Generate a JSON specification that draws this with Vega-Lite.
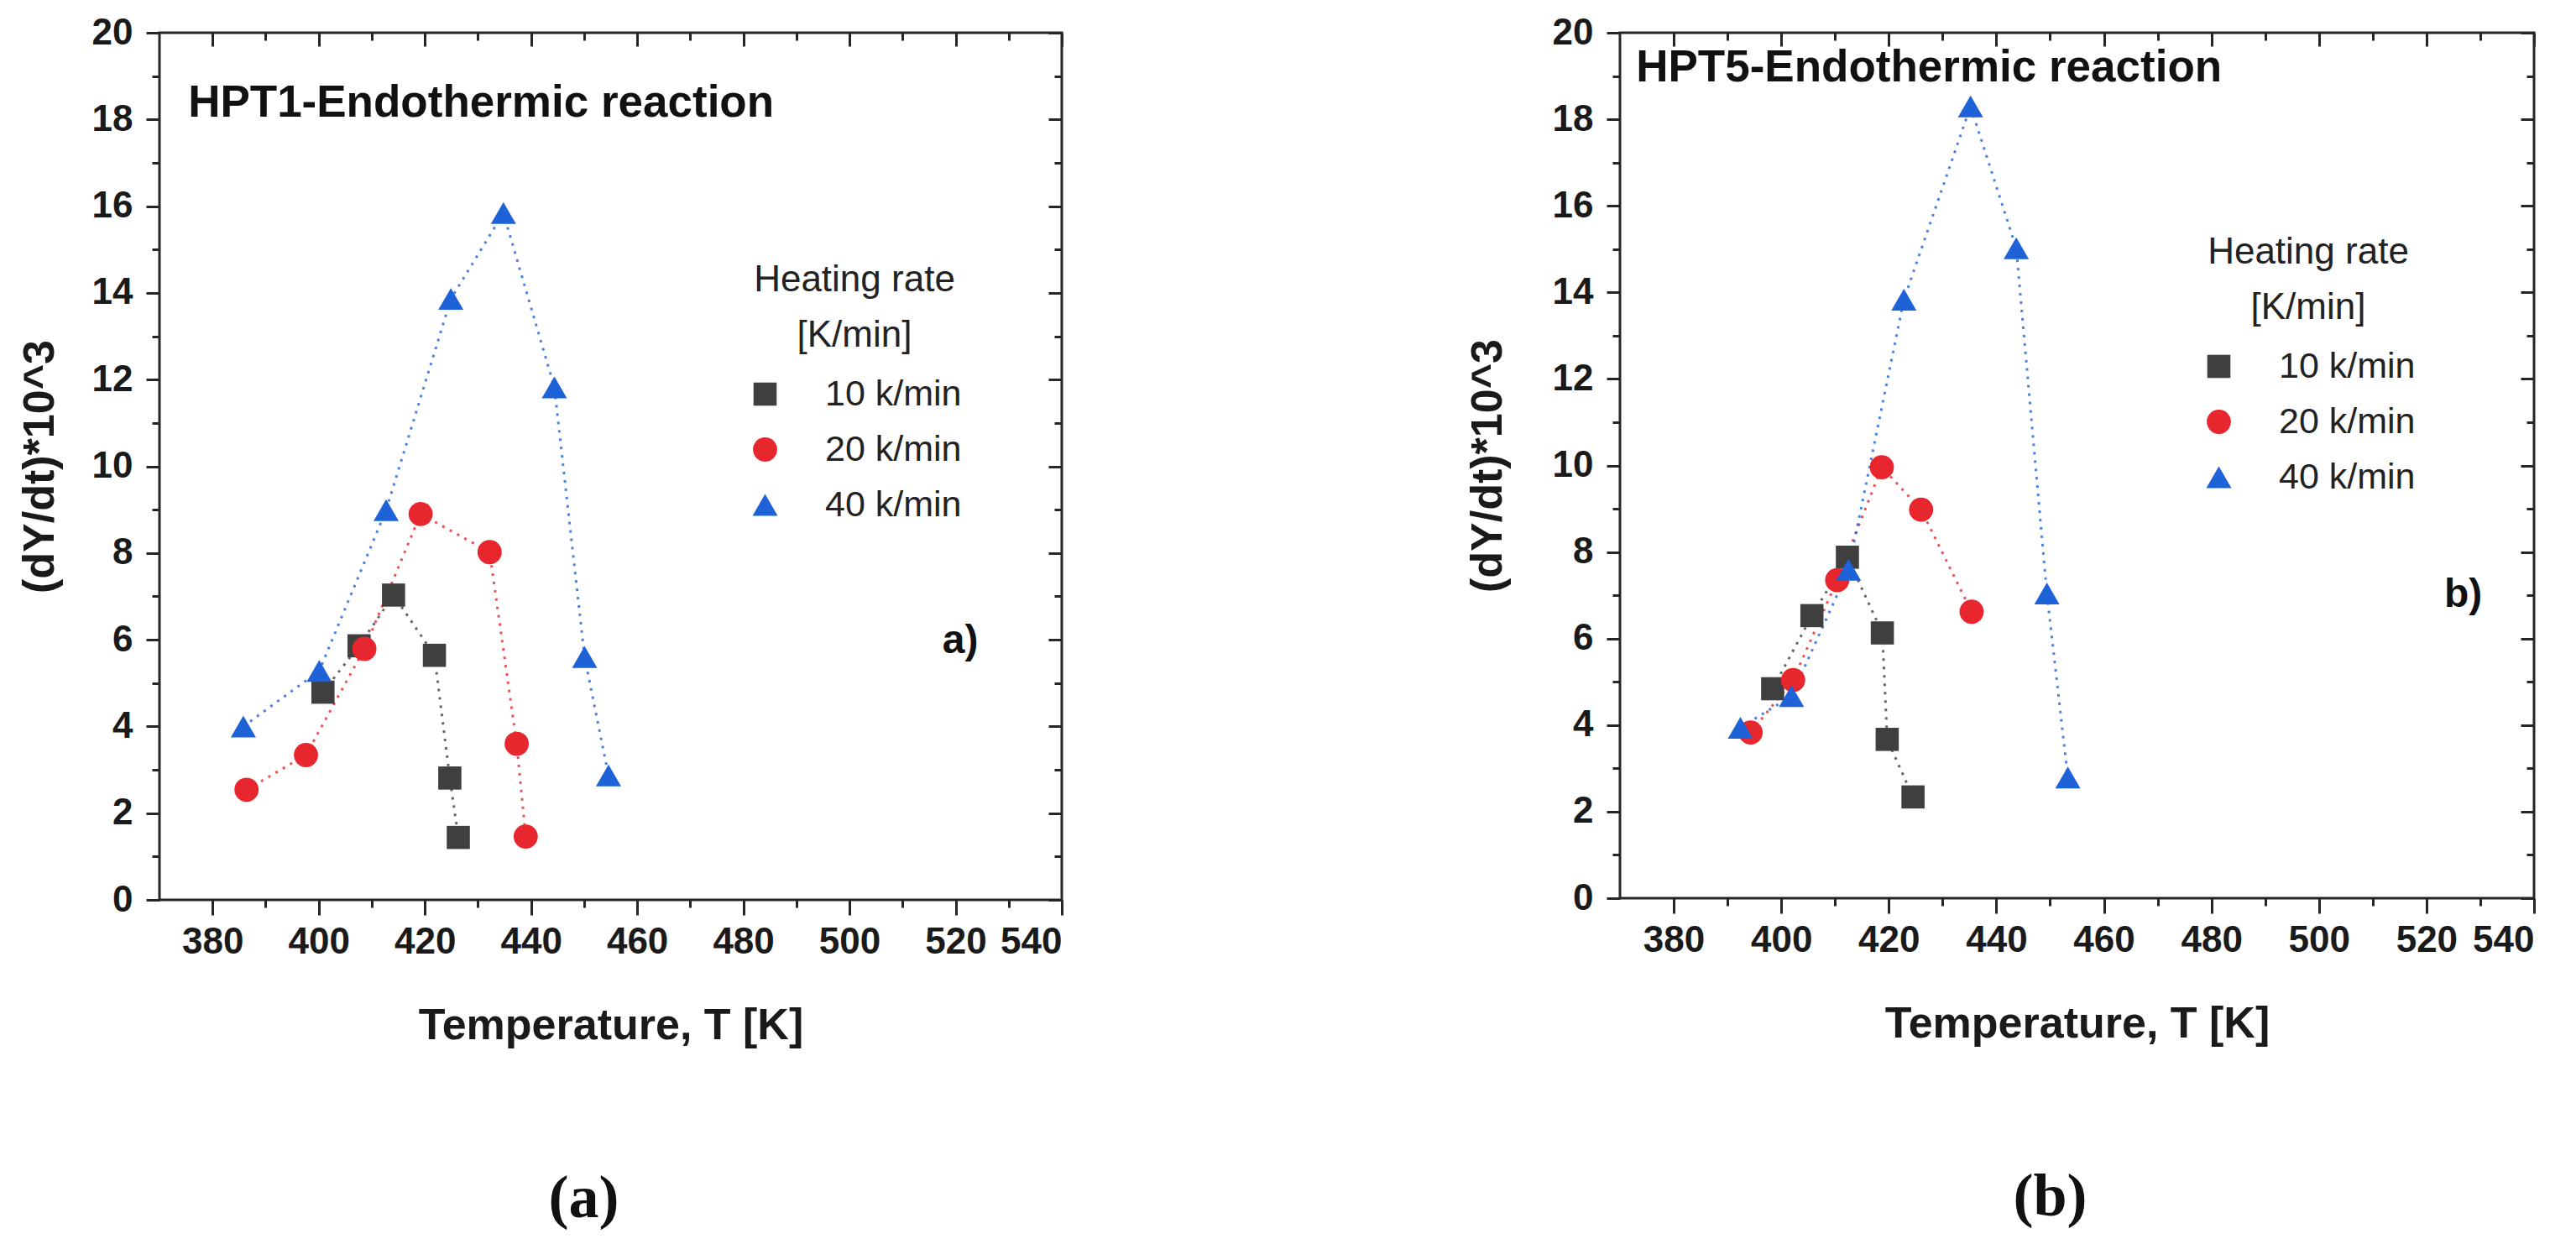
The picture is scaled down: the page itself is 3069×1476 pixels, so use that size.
{
  "$schema": "https://vega.github.io/schema/vega-lite/v6.json",
  "background": "white",
  "padding": {"left": 19, "top": 15, "right": 0, "bottom": 0},
  "datasets": {
    "a": [
      {"T": 400.8, "r": 4.79, "s": "10 k/min"},
      {"T": 407.6, "r": 5.86, "s": "10 k/min"},
      {"T": 414.1, "r": 7.03, "s": "10 k/min"},
      {"T": 421.8, "r": 5.64, "s": "10 k/min"},
      {"T": 424.7, "r": 2.81, "s": "10 k/min"},
      {"T": 426.3, "r": 1.44, "s": "10 k/min"},
      {"T": 386.4, "r": 2.54, "s": "20 k/min"},
      {"T": 397.6, "r": 3.34, "s": "20 k/min"},
      {"T": 408.6, "r": 5.79, "s": "20 k/min"},
      {"T": 419.2, "r": 8.9, "s": "20 k/min"},
      {"T": 432.2, "r": 8.02, "s": "20 k/min"},
      {"T": 437.3, "r": 3.6, "s": "20 k/min"},
      {"T": 439.0, "r": 1.46, "s": "20 k/min"},
      {"T": 385.8, "r": 4.0, "s": "40 k/min"},
      {"T": 400.1, "r": 5.28, "s": "40 k/min"},
      {"T": 412.7, "r": 8.99, "s": "40 k/min"},
      {"T": 424.9, "r": 13.86, "s": "40 k/min"},
      {"T": 434.8, "r": 15.84, "s": "40 k/min"},
      {"T": 444.4, "r": 11.82, "s": "40 k/min"},
      {"T": 450.1, "r": 5.6, "s": "40 k/min"},
      {"T": 454.6, "r": 2.87, "s": "40 k/min"}
    ],
    "b": [
      {"T": 398.4, "r": 4.84, "s": "10 k/min"},
      {"T": 405.7, "r": 6.53, "s": "10 k/min"},
      {"T": 412.3, "r": 7.88, "s": "10 k/min"},
      {"T": 418.8, "r": 6.13, "s": "10 k/min"},
      {"T": 419.7, "r": 3.67, "s": "10 k/min"},
      {"T": 424.5, "r": 2.34, "s": "10 k/min"},
      {"T": 394.3, "r": 3.83, "s": "20 k/min"},
      {"T": 402.2, "r": 5.04, "s": "20 k/min"},
      {"T": 410.4, "r": 7.35, "s": "20 k/min"},
      {"T": 418.7, "r": 9.96, "s": "20 k/min"},
      {"T": 426.0, "r": 8.98, "s": "20 k/min"},
      {"T": 435.4, "r": 6.62, "s": "20 k/min"},
      {"T": 392.4, "r": 3.94, "s": "40 k/min"},
      {"T": 401.9, "r": 4.67, "s": "40 k/min"},
      {"T": 412.5, "r": 7.59, "s": "40 k/min"},
      {"T": 422.8, "r": 13.83, "s": "40 k/min"},
      {"T": 435.2, "r": 18.3, "s": "40 k/min"},
      {"T": 443.7, "r": 15.02, "s": "40 k/min"},
      {"T": 449.4, "r": 7.04, "s": "40 k/min"},
      {"T": 453.3, "r": 2.79, "s": "40 k/min"}
    ]
  },
  "hconcat": [
    {
      "width": 1075,
      "height": 1033,
      "title": {"text": "(a)", "orient": "bottom", "anchor": "middle", "dx": -32, "offset": 146, "font": "Liberation Serif", "fontSize": 72, "fontWeight": "bold", "color": "#111"},
      "data": {"name": "a"},
      "layer": [
        {
          "mark": {"type": "line", "strokeDash": [3, 7], "strokeWidth": 3, "opacity": 0.8},
          "encoding": {
            "x": {"field": "T", "type": "quantitative", "scale": {"domain": [370, 540], "nice": false, "zero": false},
              "axis": {"orient": "bottom", "values": [380, 400, 420, 440, 460, 480, 500, 520, 540], "tickSize": 18, "labelPadding": 10, "title": "Temperature, T [K]", "titlePadding": 52}},
            "y": {"field": "r", "type": "quantitative", "scale": {"domain": [0, 20], "nice": false},
              "axis": {"orient": "left", "values": [0, 2, 4, 6, 8, 10, 12, 14, 16, 18, 20], "tickSize": 16, "labelPadding": 16, "title": "(dY/dt)*10^3", "titlePadding": 35}},
            "detail": {"field": "s", "type": "nominal"},
            "stroke": {"condition": [{"test": "datum.s === '10 k/min'", "value": "#3f3f3f"}, {"test": "datum.s === '20 k/min'", "value": "#e8262d"}], "value": "#1e62d8"}
          }
        },
        {
          "mark": {"type": "point", "filled": true, "opacity": 1},
          "encoding": {
            "x": {"field": "T", "type": "quantitative", "scale": {"domain": [370, 540], "nice": false, "zero": false},
              "axis": {"orient": "bottom", "values": [390, 410, 430, 450, 470, 490, 510, 530], "tickSize": 9, "labels": false, "title": null}},
            "y": {"field": "r", "type": "quantitative", "scale": {"domain": [0, 20], "nice": false},
              "axis": {"orient": "left", "values": [1, 3, 5, 7, 9, 11, 13, 15, 17, 19], "tickSize": 9, "labels": false, "title": null}},
            "color": {"field": "s", "type": "nominal", "scale": {"domain": ["10 k/min", "20 k/min", "40 k/min"], "range": ["#3f3f3f", "#e8262d", "#1e62d8"]},
              "legend": {"orient": "none", "title": ["Heating rate", "[K/min]"], "legendX": 700, "legendY": 273}},
            "shape": {"field": "s", "type": "nominal", "scale": {"domain": ["10 k/min", "20 k/min", "40 k/min"], "range": ["square", "circle", "triangle-up"]},
              "legend": {"orient": "none", "title": ["Heating rate", "[K/min]"], "legendX": 700, "legendY": 273}},
            "size": {"field": "s", "type": "nominal", "scale": {"domain": ["10 k/min", "20 k/min", "40 k/min"], "range": [760, 900, 1300]},
              "legend": {"orient": "none", "title": ["Heating rate", "[K/min]"], "legendX": 700, "legendY": 273}}
          }
        },
        {
          "mark": {"type": "point", "opacity": 0},
          "encoding": {
            "x": {"field": "T", "type": "quantitative", "scale": {"domain": [370, 540], "nice": false, "zero": false},
              "axis": {"orient": "top", "values": [380, 400, 420, 440, 460, 480, 500, 520, 540], "tickSize": -16, "labels": false, "title": null}},
            "y": {"field": "r", "type": "quantitative", "scale": {"domain": [0, 20], "nice": false},
              "axis": {"orient": "right", "values": [0, 2, 4, 6, 8, 10, 12, 14, 16, 18, 20], "tickSize": -16, "labels": false, "title": null}}
          }
        },
        {
          "mark": {"type": "point", "opacity": 0},
          "encoding": {
            "x": {"field": "T", "type": "quantitative", "scale": {"domain": [370, 540], "nice": false, "zero": false},
              "axis": {"orient": "top", "values": [390, 410, 430, 450, 470, 490, 510, 530], "tickSize": -9, "labels": false, "title": null}},
            "y": {"field": "r", "type": "quantitative", "scale": {"domain": [0, 20], "nice": false},
              "axis": {"orient": "right", "values": [1, 3, 5, 7, 9, 11, 13, 15, 17, 19], "tickSize": -9, "labels": false, "title": null}}
          }
        },
        {
          "data": {"values": [{}]},
          "mark": {"type": "text", "align": "left", "baseline": "middle", "font": "Liberation Sans", "fontSize": 53, "fontWeight": "bold", "color": "#111"},
          "encoding": {
            "x": {"datum": 375.4, "type": "quantitative", "scale": {"domain": [370, 540], "nice": false, "zero": false}, "axis": null},
            "y": {"datum": 18.37, "type": "quantitative", "scale": {"domain": [0, 20], "nice": false}, "axis": null},
            "text": {"value": "HPT1-Endothermic reaction"}
          }
        },
        {
          "data": {"values": [{}]},
          "mark": {"type": "text", "align": "left", "baseline": "middle", "font": "Liberation Sans", "fontSize": 48, "fontWeight": "bold", "color": "#111"},
          "encoding": {
            "x": {"datum": 517.5, "type": "quantitative", "scale": {"domain": [370, 540], "nice": false, "zero": false}, "axis": null},
            "y": {"datum": 5.96, "type": "quantitative", "scale": {"domain": [0, 20], "nice": false}, "axis": null},
            "text": {"value": "a)"}
          }
        }
      ],
      "resolve": {"axis": {"x": "independent", "y": "independent"}}
    },
    {
      "width": 1089,
      "height": 1031,
      "title": {"text": "(b)", "orient": "bottom", "anchor": "middle", "dx": -32, "offset": 146, "font": "Liberation Serif", "fontSize": 72, "fontWeight": "bold", "color": "#111"},
      "data": {"name": "b"},
      "layer": [
        {
          "mark": {"type": "line", "strokeDash": [3, 7], "strokeWidth": 3, "opacity": 0.8},
          "encoding": {
            "x": {"field": "T", "type": "quantitative", "scale": {"domain": [370, 540], "nice": false, "zero": false},
              "axis": {"orient": "bottom", "values": [380, 400, 420, 440, 460, 480, 500, 520, 540], "tickSize": 18, "labelPadding": 10, "title": "Temperature, T [K]", "titlePadding": 52}},
            "y": {"field": "r", "type": "quantitative", "scale": {"domain": [0, 20], "nice": false},
              "axis": {"orient": "left", "values": [0, 2, 4, 6, 8, 10, 12, 14, 16, 18, 20], "tickSize": 16, "labelPadding": 16, "title": "(dY/dt)*10^3", "titlePadding": 50}},
            "detail": {"field": "s", "type": "nominal"},
            "stroke": {"condition": [{"test": "datum.s === '10 k/min'", "value": "#3f3f3f"}, {"test": "datum.s === '20 k/min'", "value": "#e8262d"}], "value": "#1e62d8"}
          }
        },
        {
          "mark": {"type": "point", "filled": true, "opacity": 1},
          "encoding": {
            "x": {"field": "T", "type": "quantitative", "scale": {"domain": [370, 540], "nice": false, "zero": false},
              "axis": {"orient": "bottom", "values": [390, 410, 430, 450, 470, 490, 510, 530], "tickSize": 9, "labels": false, "title": null}},
            "y": {"field": "r", "type": "quantitative", "scale": {"domain": [0, 20], "nice": false},
              "axis": {"orient": "left", "values": [1, 3, 5, 7, 9, 11, 13, 15, 17, 19], "tickSize": 9, "labels": false, "title": null}},
            "color": {"field": "s", "type": "nominal", "scale": {"domain": ["10 k/min", "20 k/min", "40 k/min"], "range": ["#3f3f3f", "#e8262d", "#1e62d8"]},
              "legend": {"orient": "none", "title": ["Heating rate", "[K/min]"], "legendX": 692, "legendY": 240}},
            "shape": {"field": "s", "type": "nominal", "scale": {"domain": ["10 k/min", "20 k/min", "40 k/min"], "range": ["square", "circle", "triangle-up"]},
              "legend": {"orient": "none", "title": ["Heating rate", "[K/min]"], "legendX": 692, "legendY": 240}},
            "size": {"field": "s", "type": "nominal", "scale": {"domain": ["10 k/min", "20 k/min", "40 k/min"], "range": [760, 900, 1300]},
              "legend": {"orient": "none", "title": ["Heating rate", "[K/min]"], "legendX": 692, "legendY": 240}}
          }
        },
        {
          "mark": {"type": "point", "opacity": 0},
          "encoding": {
            "x": {"field": "T", "type": "quantitative", "scale": {"domain": [370, 540], "nice": false, "zero": false},
              "axis": {"orient": "top", "values": [380, 400, 420, 440, 460, 480, 500, 520, 540], "tickSize": -16, "labels": false, "title": null}},
            "y": {"field": "r", "type": "quantitative", "scale": {"domain": [0, 20], "nice": false},
              "axis": {"orient": "right", "values": [0, 2, 4, 6, 8, 10, 12, 14, 16, 18, 20], "tickSize": -16, "labels": false, "title": null}}
          }
        },
        {
          "mark": {"type": "point", "opacity": 0},
          "encoding": {
            "x": {"field": "T", "type": "quantitative", "scale": {"domain": [370, 540], "nice": false, "zero": false},
              "axis": {"orient": "top", "values": [390, 410, 430, 450, 470, 490, 510, 530], "tickSize": -9, "labels": false, "title": null}},
            "y": {"field": "r", "type": "quantitative", "scale": {"domain": [0, 20], "nice": false},
              "axis": {"orient": "right", "values": [1, 3, 5, 7, 9, 11, 13, 15, 17, 19], "tickSize": -9, "labels": false, "title": null}}
          }
        },
        {
          "data": {"values": [{}]},
          "mark": {"type": "text", "align": "left", "baseline": "middle", "font": "Liberation Sans", "fontSize": 53, "fontWeight": "bold", "color": "#111"},
          "encoding": {
            "x": {"datum": 373, "type": "quantitative", "scale": {"domain": [370, 540], "nice": false, "zero": false}, "axis": null},
            "y": {"datum": 19.19, "type": "quantitative", "scale": {"domain": [0, 20], "nice": false}, "axis": null},
            "text": {"value": "HPT5-Endothermic reaction"}
          }
        },
        {
          "data": {"values": [{}]},
          "mark": {"type": "text", "align": "left", "baseline": "middle", "font": "Liberation Sans", "fontSize": 48, "fontWeight": "bold", "color": "#111"},
          "encoding": {
            "x": {"datum": 523.3, "type": "quantitative", "scale": {"domain": [370, 540], "nice": false, "zero": false}, "axis": null},
            "y": {"datum": 7.0, "type": "quantitative", "scale": {"domain": [0, 20], "nice": false}, "axis": null},
            "text": {"value": "b)"}
          }
        }
      ],
      "resolve": {"axis": {"x": "independent", "y": "independent"}}
    }
  ],
  "spacing": 476,
  "resolve": {
    "scale": {"x": "independent", "y": "independent", "color": "independent", "shape": "independent", "size": "independent"},
    "legend": {"color": "independent", "shape": "independent", "size": "independent"}
  },
  "config": {
    "view": {"stroke": "#262626", "strokeWidth": 3},
    "axis": {
      "grid": false,
      "domain": false,
      "tickColor": "#262626",
      "tickWidth": 3,
      "labelFont": "Liberation Sans",
      "labelFontSize": 44,
      "labelFontWeight": "bold",
      "labelColor": "#1a1a1a",
      "titleFont": "Liberation Sans",
      "titleFontSize": 52,
      "titleFontWeight": "bold",
      "titleColor": "#1a1a1a"
    },
    "legend": {
      "padding": 0,
      "titleFont": "Liberation Sans",
      "titleFontSize": 44,
      "titleFontWeight": "normal",
      "titleColor": "#222",
      "titleAnchor": "middle",
      "titleAlign": "center",
      "titleLineHeight": 66,
      "titlePadding": 26,
      "titleLimit": 600,
      "labelFont": "Liberation Sans",
      "labelFontSize": 43,
      "labelColor": "#222",
      "labelLimit": 600,
      "symbolStrokeWidth": 0,
      "rowPadding": 22,
      "labelOffset": 50
    }
  }
}
